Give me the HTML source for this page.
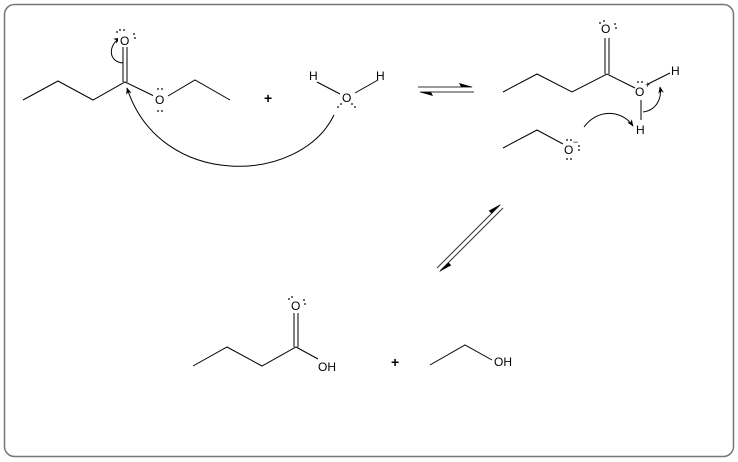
<!DOCTYPE html>
<html><head><style>body{margin:0;background:#fff}svg{display:block}text{font-family:"Liberation Sans",sans-serif;font-size:12px;fill:#000}</style></head><body>
<svg width="738" height="462" viewBox="0 0 738 462" xmlns="http://www.w3.org/2000/svg">
<defs><marker id="a" viewBox="0 0 10 10" refX="9" refY="5" markerWidth="7" markerHeight="7" orient="auto"><path d="M0,1 L10,5 L0,9 L3,5z" fill="#000"/></marker></defs>
<rect x="4.5" y="4.5" width="729" height="452" rx="10" fill="none" stroke="#777" stroke-width="1.5"/>
<g stroke="#000" stroke-width="1" fill="none">
<polyline points="23,100 58,81 93,100 125,82 154,96"/>
<line x1="123" y1="82" x2="123" y2="47"/><line x1="127" y1="82" x2="127" y2="47"/>
<polyline points="168,96 195,80 230,100"/>
<line x1="317" y1="82" x2="340" y2="94"/><line x1="355" y1="93" x2="378" y2="80"/>
<path d="M334,115 C300,185 160,190 127,88" marker-end="url(#a)"/>
<path d="M123,63 C108,62 108,45 120,38" marker-end="url(#a)"/>
<polyline points="503,92 537,74 572,92 607,74 635,88"/>
<line x1="605" y1="74" x2="605" y2="38"/><line x1="609" y1="74" x2="609" y2="38"/>
<line x1="648" y1="84" x2="670" y2="73"/>
<line x1="641" y1="100" x2="641" y2="120"/>
<path d="M643,112 C657,110 662,98 660,87" marker-end="url(#a)"/>
<polyline points="503,148 537,130 563,144"/>
<path d="M584,127 C598,108 622,110 633,126" marker-end="url(#a)"/>
<polyline points="193,366 227,347 262,366 296,347 318,359"/>
<line x1="294" y1="347" x2="294" y2="313"/><line x1="298" y1="347" x2="298" y2="313"/>
<polyline points="430,365 465,345 492,360"/>
</g>
<g stroke="#333" stroke-width="1">
<line x1="418" y1="87" x2="472" y2="87"/>
<line x1="420" y1="92" x2="474" y2="92"/>
<line x1="437" y1="268" x2="500" y2="205"/>
<line x1="440" y1="271" x2="503" y2="208"/>
</g>
<g fill="#000">
<path d="M473,87 L459,83 L461,87z"/>
<path d="M419,92 L433,96 L431,92z"/>
<path d="M501,204 L488.7,210.7 L491.5,213.5z"/>
<path d="M439,272 L451.3,265.3 L448.5,262.5z"/>
</g>
<g fill="#fff">
<rect x="118" y="32" width="13" height="14"/><rect x="153" y="91" width="14" height="14"/>
</g>
<text x="120" y="45">O</text>
<text x="155" y="104">O</text>
<text x="264" y="103" style="font-weight:bold;font-size:14px">+</text>
<text x="309" y="80">H</text><text x="342" y="102">O</text><text x="376" y="80">H</text>
<text x="601" y="33">O</text>
<text x="635" y="96">O</text><text x="645" y="88" style="font-size:9px">+</text>
<text x="671" y="75">H</text><text x="636" y="134">H</text>
<text x="564" y="154">O</text><text x="573" y="145" style="font-size:9px">−</text>
<text x="291" y="310">O</text>
<text x="318" y="371">OH</text>
<text x="391" y="367" style="font-weight:bold;font-size:14px">+</text>
<text x="494" y="366">OH</text>
<g fill="#000">
<circle cx="117" cy="32" r="0.9"/><circle cx="120" cy="30" r="0.9"/><circle cx="124" cy="30" r="0.9"/><circle cx="134" cy="34" r="0.9"/><circle cx="135" cy="38" r="0.9"/>
<circle cx="158" cy="89" r="0.9"/><circle cx="162" cy="89" r="0.9"/><circle cx="158" cy="111" r="0.9"/><circle cx="162" cy="111" r="0.9"/>
<circle cx="338" cy="107" r="0.9"/><circle cx="341" cy="104" r="0.9"/><circle cx="352" cy="104" r="0.9"/><circle cx="355" cy="107" r="0.9"/>
<circle cx="600" cy="23" r="0.9"/><circle cx="604" cy="21" r="0.9"/><circle cx="615" cy="24" r="0.9"/><circle cx="616" cy="28" r="0.9"/>
<circle cx="638" cy="82" r="0.9"/><circle cx="642" cy="82" r="0.9"/>
<circle cx="567" cy="140" r="0.9"/><circle cx="571" cy="140" r="0.9"/><circle cx="579" cy="146" r="0.9"/><circle cx="579" cy="150" r="0.9"/><circle cx="567" cy="159" r="0.9"/><circle cx="571" cy="159" r="0.9"/>
<circle cx="289" cy="299" r="0.9"/><circle cx="292" cy="297" r="0.9"/><circle cx="304" cy="300" r="0.9"/><circle cx="305" cy="304" r="0.9"/>
</g>
</svg>
</body></html>
